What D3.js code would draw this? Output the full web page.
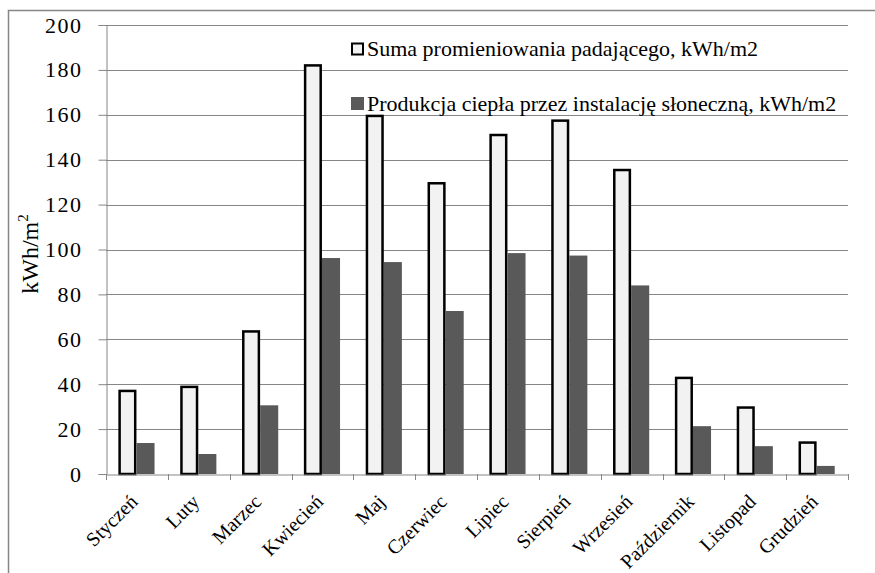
<!DOCTYPE html>
<html>
<head>
<meta charset="utf-8">
<script src="https://cdn.jsdelivr.net/npm/d3@7"></script>
<style>
  html, body { margin: 0; padding: 0; background: #fff; }
  svg { display: block; }
  text { font-family: "Liberation Serif", "Times New Roman", serif; fill: #000; }
</style>
</head>
<body>
<svg id="chart" width="875" height="573"></svg>
<script>
const months = ["Styczeń","Luty","Marzec","Kwiecień","Maj","Czerwiec","Lipiec","Sierpień","Wrzesień","Październik","Listopad","Grudzień"];
const seriesNames = ["Suma promieniowania padającego, kWh/m2", "Produkcja ciepła przez instalację słoneczną, kWh/m2"];
const radiation = [37, 38.8, 63.5, 182, 159.5, 129.5, 151, 157.4, 135.4, 42.8, 29.6, 14];
const heat = [13.8, 8.9, 30.6, 96.2, 94.4, 72.6, 98.4, 97.3, 84, 21.3, 12.4, 3.6];
const yTicks = [0, 20, 40, 60, 80, 100, 120, 140, 160, 180, 200];

(function () {
const svg = d3.select("#chart");
const pL = 106, pR = 848, pT = 25, pB = 474;
const grid = "#868686";

// outer border (cropped chart frame)
svg.append("path").attr("d", "M8.5,573 L8.5,10.5 L875,10.5")
  .attr("fill", "none").attr("stroke", grid).attr("stroke-width", 1.5);

const x = d3.scaleBand().domain(months).range([pL, pR]).padding(0);
const bw = x.bandwidth();
const x1 = d3.scaleBand().domain([0, 1]).range([0.2 * bw, 0.785 * bw]).padding(0);
const y = d3.scaleLinear().domain([0, 200]).range([pB, pT]);

// gridlines
svg.append("g").selectAll("line").data(yTicks.filter(d => d > 0)).join("line")
  .attr("x1", pL).attr("x2", pR)
  .attr("y1", d => Math.round(y(d)) + 0.5).attr("y2", d => Math.round(y(d)) + 0.5)
  .attr("stroke", grid).attr("stroke-width", 1);

// y axis
const yAxis = d3.axisLeft(y).tickValues(yTicks).tickSize(8).tickPadding(16).tickFormat(d3.format("d"));
const gy = svg.append("g").attr("transform", `translate(${pL + 0.5},0)`).call(yAxis);
gy.select(".domain").attr("stroke", grid);
gy.selectAll(".tick line").attr("stroke", grid);
gy.selectAll(".tick text").style("font-size", "22px").style("font-family", '"Liberation Serif", serif')
  .attr("letter-spacing", "1.5px");

// bars
const groups = svg.append("g").selectAll("g").data(months).join("g")
  .attr("transform", d => `translate(${x(d)},0)`);
groups.append("rect")
  .attr("x", (d, i) => x1(0) + 1.25)
  .attr("y", (d, i) => y(radiation[i]))
  .attr("width", x1.bandwidth() - 2.5)
  .attr("height", (d, i) => pB - y(radiation[i]))
  .attr("fill", "#f2f2f2").attr("stroke", "#000").attr("stroke-width", 2.5);
groups.append("rect")
  .attr("x", (d, i) => x1(1))
  .attr("y", (d, i) => y(heat[i]))
  .attr("width", x1.bandwidth())
  .attr("height", (d, i) => pB - y(heat[i]))
  .attr("fill", "#595959");

// x axis
const xAxis = d3.axisBottom(x).tickSize(0).tickFormat("");
const gx = svg.append("g").attr("transform", `translate(0,${pB + 0.5})`).call(xAxis);
gx.select(".domain").attr("stroke", grid);
const boundaries = months.map(m => x(m)).concat([pR]);
svg.append("g").selectAll("line").data(boundaries).join("line")
  .attr("x1", d => Math.round(d) + 0.5).attr("x2", d => Math.round(d) + 0.5)
  .attr("y1", pB).attr("y2", pB + 6)
  .attr("stroke", grid);

// x labels
svg.append("g").selectAll("text").data(months).join("text")
  .attr("transform", d => `translate(${x(d) + bw / 2 - 3},${pB + 24}) rotate(-45)`)
  .attr("text-anchor", "end").attr("dy", "0.35em")
  .style("font-size", "20px")
  .text(d => d);

// y label
const yl = svg.append("text")
  .attr("transform", `translate(38,254) rotate(-90)`)
  .attr("text-anchor", "middle")
  .style("font-size", "24px");
yl.append("tspan").text("kWh/m");
yl.append("tspan").attr("dy", "-10").style("font-size", "15px").text("2");

// legend
const legend = svg.append("g");
const legY = [56, 111];
legend.append("rect").attr("x", 352).attr("y", 43.5).attr("width", 11).attr("height", 11)
  .attr("fill", "#f2f2f2").attr("stroke", "#000").attr("stroke-width", 2);
legend.append("rect").attr("x", 351).attr("y", 97).attr("width", 13).attr("height", 13)
  .attr("fill", "#595959");
legend.selectAll("text").data(seriesNames).join("text")
  .attr("x", 367).attr("y", (d, i) => legY[i])
  .style("font-size", "22px")
  .text(d => d);
})();
</script>
</body>
</html>
